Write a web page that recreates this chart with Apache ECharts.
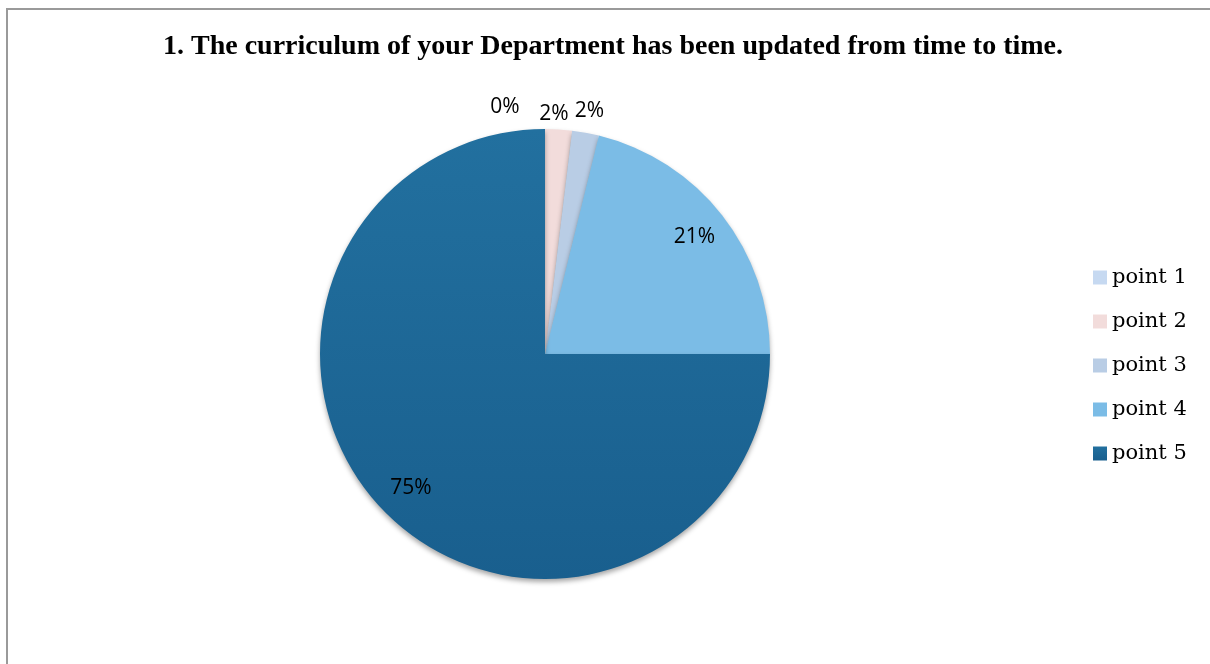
<!DOCTYPE html>
<html>
<head>
<meta charset="utf-8">
<script src="https://cdn.jsdelivr.net/npm/echarts@6/dist/echarts.min.js"></script>
<style>
    html, body { margin: 0; padding: 0; background: #fff; }
    #chart { width: 1210px; height: 664px; }
</style>
</head>
<body>
<div id="chart"></div>
<script>
// 数据
const titleText = "1. The curriculum of your Department has been updated from time to time.";
const categories = ["point 1", "point 2", "point 3", "point 4", "point 5"];
const counts = [0, 1, 1, 11, 39];
const colors = ["#c6d9f1", "#f2dcdb", "#b9cde5", "#7bbce6", "#1c6899"];

const innerLabelIdx = [3, 4];   // 饼内标签
const outerLabelIdx = [0, 1, 2]; // 饼外标签

const center = [545, 354];
const radius = 225;

function pieData(showIdx) {
    return categories.map((name, i) => ({
        name: name,
        value: counts[i],
        label: { show: showIdx.indexOf(i) >= 0 }
    }));
}

const labelStyle = {
    position: "inside",
    formatter: p => Math.round(p.percent) + "%",
    color: "#000",
    fontFamily: "Open Sans",
    fontSize: 21
};

var chart = echarts.init(document.getElementById("chart"));

var option = {
    animation: false,
    color: colors,
    title: {
        text: titleText,
        left: 158,
        top: 28,
        textStyle: {
            fontFamily: "Liberation Serif",
            fontWeight: "bold",
            fontSize: 28,
            color: "#000"
        }
    },
    legend: {
        orient: "vertical",
        left: 1093,
        top: 267,
        padding: 0,
        itemWidth: 14,
        itemHeight: 14,
        itemGap: 23,
        icon: "rect",
        data: categories,
        textStyle: {
            fontFamily: "DejaVu Serif",
            fontSize: 21,
            color: "#000"
        }
    },
    graphic: [{
        type: "rect",
        shape: { x: 7, y: 9, width: 1400, height: 900 },
        style: { fill: "none", stroke: "#9a9a9a", lineWidth: 2 },
        silent: true
    }],
    series: [
        {
            name: "main",
            type: "pie",
            center: center,
            radius: radius,
            startAngle: 90,
            clockwise: true,
            silent: true,
            label: { show: false },
            labelLine: { show: false },
            itemStyle: {
                shadowColor: "rgba(0,0,0,0.35)",
                shadowBlur: 5,
                shadowOffsetY: 3
            },
            data: categories.map((name, i) => ({
                name: name,
                value: counts[i],
                itemStyle: i === 4 ? {
                    color: new echarts.graphic.LinearGradient(0, 0, 0, 1, [
                        { offset: 0, color: "#22709f" },
                        { offset: 1, color: "#195f8e" }
                    ])
                } : {}
            }))
        },
        {
            name: "innerLabels",
            type: "pie",
            center: center,
            radius: [0, radius * 1.66],
            startAngle: 90,
            silent: true,
            itemStyle: { color: "transparent" },
            label: labelStyle,
            labelLine: { show: false },
            data: pieData(innerLabelIdx)
        },
        {
            name: "outerLabels",
            type: "pie",
            center: center,
            radius: [0, radius * 2.17],
            startAngle: 90,
            silent: true,
            avoidLabelOverlap: false,
            itemStyle: { color: "transparent" },
            label: labelStyle,
            labelLine: { show: false },
            labelLayout: function (params) {
                if (params.dataIndex === 0) {
                    return { dx: -40 };
                }
                if (params.dataIndex === 1) {
                    return { dx: -6, dy: 7 };
                }
                return {};
            },
            data: pieData(outerLabelIdx)
        }
    ]
};

chart.setOption(option);
</script>
</body>
</html>
